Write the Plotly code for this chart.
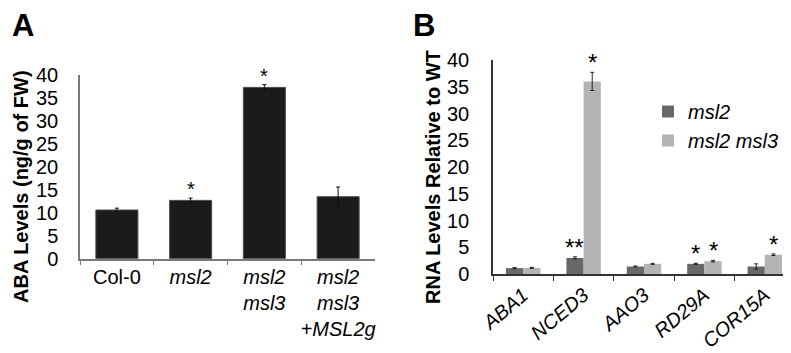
import plotly.graph_objects as go

# Panel A data
a_categories = ["Col-0", "<i>msl2</i>", "<i>msl2<br>msl3</i>", "<i>msl2<br>msl3<br>+MSL2g</i>"]
a_values = [10.6, 12.7, 37.3, 13.5]
a_errors = [0.4, 0.5, 0.6, 2.1]
a_signif = ["", "*", "*", ""]

# Panel B data
b_genes = ["ABA1", "NCED3", "AAO3", "RD29A", "COR15A"]
b_msl2 = [1.1, 3.0, 1.4, 1.9, 1.4]
b_msl2_err = [0.1, 0.2, 0.1, 0.1, 0.5]
b_msl2msl3 = [1.15, 36.0, 1.9, 2.4, 3.6]
b_msl2msl3_err = [0.1, 1.7, 0.1, 0.15, 0.15]
b_msl2_sig = ["", "**", "", "*", ""]
b_msl2msl3_sig = ["", "*", "", "*", "*"]

FONT = "Liberation Sans, Arial, sans-serif"
W, H = 791, 353
B_GAP = 0.43

fig = go.Figure()

fig.add_trace(go.Bar(
    x=a_categories, y=a_values, xaxis="x", yaxis="y",
    marker=dict(color="#1b1b1b", line=dict(color="#4a4a4a", width=1)),
    error_y=dict(type="data", array=a_errors, color="#111", thickness=1, width=2),
    showlegend=False,
))

fig.add_trace(go.Bar(
    x=b_genes, y=b_msl2, xaxis="x2", yaxis="y2", name="<i>msl2</i>",
    marker=dict(color="#686868", line=dict(width=0)),
    error_y=dict(type="data", array=b_msl2_err, color="#222", thickness=1, width=2),
))
fig.add_trace(go.Bar(
    x=b_genes, y=b_msl2msl3, xaxis="x2", yaxis="y2", name="<i>msl2 msl3</i>",
    marker=dict(color="#b4b4b4", line=dict(width=0)),
    error_y=dict(type="data", array=b_msl2msl3_err, color="#222", thickness=1, width=2),
))

annotations = []
for i, (v, e, s) in enumerate(zip(a_values, a_errors, a_signif)):
    if s:
        annotations.append(dict(x=i, y=v + e, xref="x", yref="y", text=s, showarrow=False,
                                yanchor="bottom", yshift=-4, font=dict(size=20, color="#000", family=FONT)))
off = (1 - B_GAP) / 4
for i in range(len(b_genes)):
    for vals, errs, sigs, sign in ((b_msl2, b_msl2_err, b_msl2_sig, -1), (b_msl2msl3, b_msl2msl3_err, b_msl2msl3_sig, 1)):
        if sigs[i]:
            annotations.append(dict(x=i + sign * off, y=vals[i] + errs[i], xref="x2", yref="y2", text=sigs[i],
                                    showarrow=False, yanchor="bottom", yshift=-6,
                                    font=dict(size=24, color="#000", family=FONT)))

annotations += [
    dict(text="<b>A</b>", x=2 / W, y=1, xref="paper", yref="paper", xanchor="left", yanchor="top",
         yshift=2, showarrow=False, font=dict(size=31, color="#000", family=FONT)),
    dict(text="<b>B</b>", x=403 / W, y=1, xref="paper", yref="paper", xanchor="left", yanchor="top",
         yshift=2, showarrow=False, font=dict(size=31, color="#000", family=FONT)),
    dict(text="<b>ABA Levels (ng/g of FW)</b>", x=13 / W, y=1 - 179 / H, xref="paper", yref="paper",
         xanchor="center", yanchor="middle", textangle=-90, showarrow=False,
         font=dict(size=20, color="#000", family=FONT)),
    dict(text="<b>RNA Levels Relative to WT</b>", x=425 / W, y=1 - 169 / H, xref="paper", yref="paper",
         xanchor="center", yanchor="middle", textangle=-90, showarrow=False,
         font=dict(size=20, color="#000", family=FONT)),
]

fig.update_layout(
    width=W, height=H,
    margin=dict(l=0, r=0, t=0, b=0, autoexpand=False),
    paper_bgcolor="white", plot_bgcolor="white",
    font=dict(family=FONT, color="#000"),
    barmode="group", bargap=B_GAP, bargroupgap=0,
    annotations=annotations,
    legend=dict(x=640 / W, y=1 - 84 / H, xanchor="left", yanchor="top",
                font=dict(size=20, family=FONT, color="#000"), bgcolor="rgba(0,0,0,0)",
                itemwidth=30, tracegroupgap=0),
    xaxis=dict(domain=[72 / W, 367 / W], range=[-0.5, 3.5], type="category",
               showline=True, linecolor="#7a7a7a", linewidth=1.5,
               ticks="outside", tickson="boundaries", ticklen=5, tickcolor="#7a7a7a",
               tickangle=0, automargin=False,
               tickfont=dict(size=20, family=FONT), showgrid=False, anchor="y", fixedrange=True),
    yaxis=dict(domain=[1 - 250.7 / H, 1 - 67 / H], range=[0, 40], dtick=5,
               showline=True, linecolor="#7a7a7a", linewidth=1.5, ticks="",
               ticklabelstandoff=16, tickfont=dict(size=20, family=FONT), automargin=False,
               showgrid=False, zeroline=False, anchor="x"),
    xaxis2=dict(domain=[485 / W, 787 / W], range=[-0.5, 4.5], type="category",
                showline=True, linecolor="#333", linewidth=1.5,
                ticks="outside", tickson="boundaries", ticklen=5, tickcolor="#333",
                tickangle=-40, tickfont=dict(size=20, family=FONT), automargin=False,
                tickvals=b_genes, ticktext=["<i>%s</i>" % g for g in b_genes],
                showgrid=False, anchor="y2"),
    yaxis2=dict(domain=[1 - 266 / H, 1 - 52 / H], range=[0, 40], dtick=5,
                showline=True, linecolor="#333", linewidth=1.5, ticks="",
                ticklabelstandoff=18, tickfont=dict(size=20, family=FONT), automargin=False,
                showgrid=False, zeroline=False, anchor="x2"),
)

fig.write_html("out.html")
